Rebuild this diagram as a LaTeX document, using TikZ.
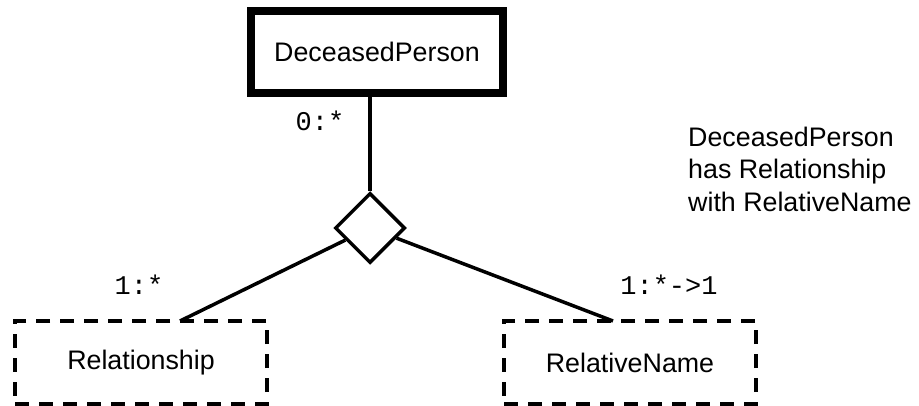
\documentclass[tikz,border=0pt]{standalone}
\usepackage{fontspec}
\setmainfont{Liberation Sans}
\setmonofont{Liberation Mono}
\usetikzlibrary{shapes.geometric,calc}
\begin{document}
\begin{tikzpicture}[x=1pt,y=-1pt,
  entity/.style={draw, line width=8pt, rectangle, minimum width=252pt, minimum height=82.5pt, inner sep=0pt, font=\fontsize{26.8}{30}\selectfont},
  weakbox/.style={draw, line width=4pt, dash pattern=on 14pt off 10pt, rectangle, minimum width=252pt, minimum height=83pt, inner sep=0pt, font=\fontsize{26.8}{30}\selectfont},
  relbox/.style={draw, diamond, line width=3.5pt, minimum width=70pt, minimum height=70pt, inner sep=0pt},
  conn/.style={line width=3.5pt},
  card/.style={font=\fontsize{27}{30}\ttfamily, inner sep=0pt},
  note/.style={font=\fontsize{26.8}{32.5}\selectfont, align=left, anchor=west, inner sep=0pt}]
\useasboundingbox (0,0) rectangle (919,406);
\node[entity] (dp) at (377,52.25) {DeceasedPerson};
\node[relbox] (rel) at (370,228) {};
\node[weakbox] (r1) at (141,362.5) {Relationship};
\node[weakbox] (r2) at (630,362.5) {RelativeName};
\coordinate (r1top) at (180,321);
\coordinate (r2top) at (613,321);
\draw[conn] (rel.north) -- (rel.north |- dp.south);
\draw[conn] (rel) -- (r1top);
\draw[conn] (rel) -- (r2top);
\node[card] (c0) at (320,121) {0:*};
\node[card] (c1) at (139,285) {1:*};
\node[card] (c2) at (669,285) {1:*->1};
\node[note] (desc) at (688,169) {DeceasedPerson\\has Relationship\\with RelativeName};
\end{tikzpicture}
\end{document}
